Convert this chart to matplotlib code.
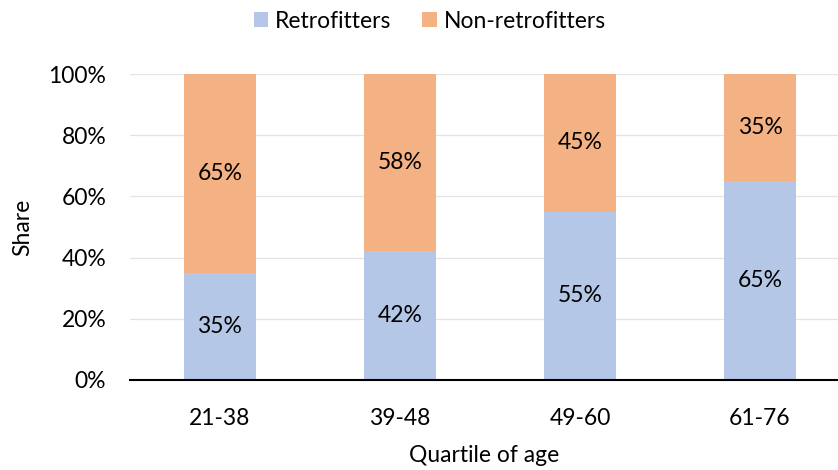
import matplotlib.pyplot as plt
import numpy as np

plt.rcParams['font.family'] = ['Lato', 'DejaVu Sans']

categories = ["21-38", "39-48", "49-60", "61-76"]
retrofitters = [35, 42, 55, 65]
non_retrofitters = [65, 58, 45, 35]

fs = 16.5
fig = plt.figure(figsize=(8.38, 4.7), dpi=100)
ax = fig.add_axes([0.155, 0.1915, 0.845, 0.651])

x = np.arange(len(categories))
w = 0.4
b1 = ax.bar(x, retrofitters, w, color="#B4C7E7", label="Retrofitters", zorder=3)
b2 = ax.bar(x, non_retrofitters, w, bottom=retrofitters, color="#F4B183",
            label="Non-retrofitters", zorder=3)

# data labels in the middle of each segment
for xi, r, n in zip(x, retrofitters, non_retrofitters):
    ax.text(xi, r / 2, f"{r}%", ha="center", va="center", fontsize=fs, zorder=4)
    ax.text(xi, r + n / 2, f"{n}%", ha="center", va="center", fontsize=fs, zorder=4)

ax.set_xlim(-0.5, 3.433)
ax.set_ylim(0, 100)
ax.set_xticks(x)
ax.set_xticklabels(categories, fontsize=fs)
ax.set_yticks(range(0, 101, 20))
ax.set_yticklabels([f"{v}%" for v in range(0, 101, 20)], fontsize=fs)
ax.tick_params(axis="x", length=0, pad=20)
ax.tick_params(axis="y", length=0, pad=17)
ax.yaxis.grid(True, color="#E4E4E4", linewidth=0.9, zorder=0)
ax.set_axisbelow(True)
for s in ["top", "right", "left"]:
    ax.spines[s].set_visible(False)
ax.spines["bottom"].set_color("black")
ax.spines["bottom"].set_linewidth(1.5)
ax.spines["bottom"].set_zorder(5)

ax.set_xlabel("Quartile of age", fontsize=fs, labelpad=12)
ax.set_ylabel("Share", fontsize=fs, labelpad=11)

fig.legend(handles=[b1, b2], loc="center", bbox_to_anchor=(0.513, 0.955), ncol=2,
           frameon=False, fontsize=fs, handlelength=0.64, handleheight=0.64,
           columnspacing=1.35, handletextpad=0.3)

fig.savefig("out.png", dpi=100)
